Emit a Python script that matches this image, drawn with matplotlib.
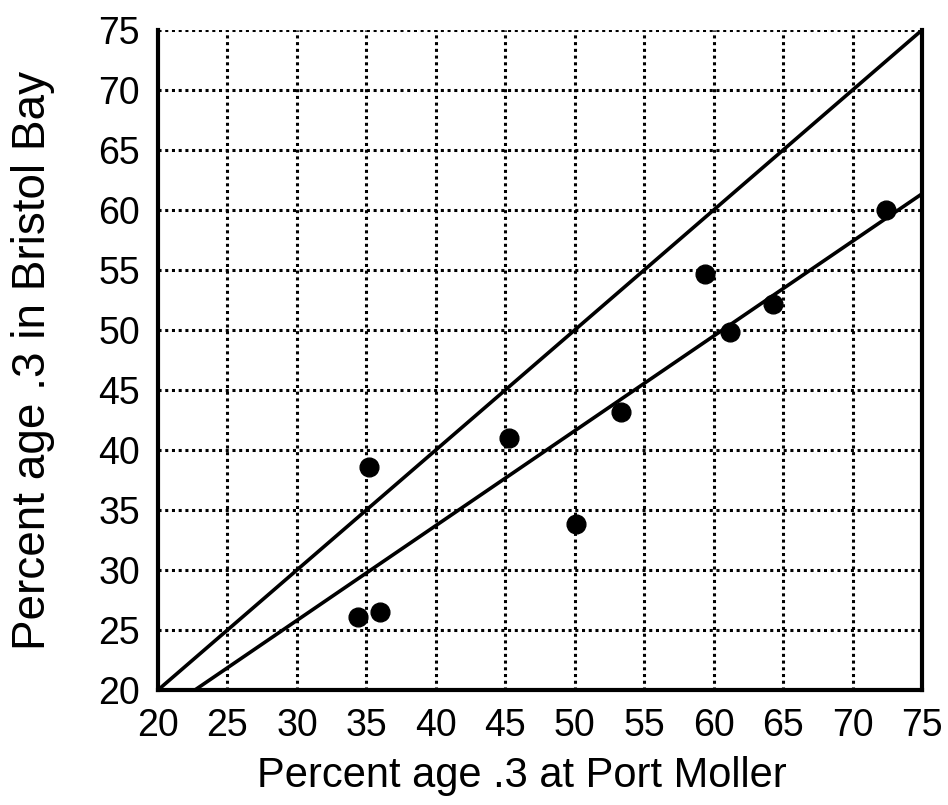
import matplotlib

matplotlib.use("Agg")
import matplotlib.pyplot as plt
import numpy as np

plt.rcParams["font.family"] = ["Liberation Sans", "DejaVu Sans"]

# percent age .3 fish: Port Moller test fishery vs Bristol Bay run
port_moller = [34.4, 36.0, 35.2, 45.3, 50.1, 53.3, 59.4, 61.2, 64.3, 72.4]
bristol_bay = [26.1, 26.5, 38.6, 41.0, 33.8, 43.2, 54.7, 49.8, 52.2, 60.0]

# fitted line (slope, intercept) and the 1:1 reference line
fit_slope, fit_intercept = 0.79, 2.1
axis_min, axis_max = 20, 75
ticks = list(range(20, 80, 5))

fig = plt.figure(figsize=(9.48, 8.05), dpi=100)
ax = fig.add_axes([0.1667, 0.1429, 0.8059, 0.8198])

ax.set_xlim(axis_min, axis_max)
ax.set_ylim(axis_min, axis_max)
ax.set_xticks(ticks)
ax.set_yticks(ticks)
ax.tick_params(length=0, pad=13, labelsize=27)

for x in ticks[1:]:
    ax.axvline(x, color="black", linestyle=(0, (1, 1.2)), linewidth=2.2, zorder=1)
for y in ticks[1:]:
    ax.axhline(y, color="black", linestyle=(0, (1, 1.2)), linewidth=2.2, zorder=1)

ax.spines["top"].set_visible(False)
for side in ("left", "bottom", "right"):
    ax.spines[side].set_linewidth(3)

xs = np.array([axis_min, axis_max])
ax.plot(xs, xs, color="black", linewidth=2.6, zorder=2)
ax.plot(xs, fit_slope * xs + fit_intercept, color="black", linewidth=2.6, zorder=2)

ax.plot(port_moller, bristol_bay, "o", color="black", markersize=13.5, zorder=3)

ax.set_xlabel("Percent age .3 at Port Moller", fontsize=30)
ax.xaxis.set_label_coords(0.476, -0.1)
ax.set_ylabel("Percent age .3 in Bristol Bay", fontsize=33)
ax.yaxis.set_label_coords(-0.135, 0.5)

fig.savefig("out.png", dpi=100)
